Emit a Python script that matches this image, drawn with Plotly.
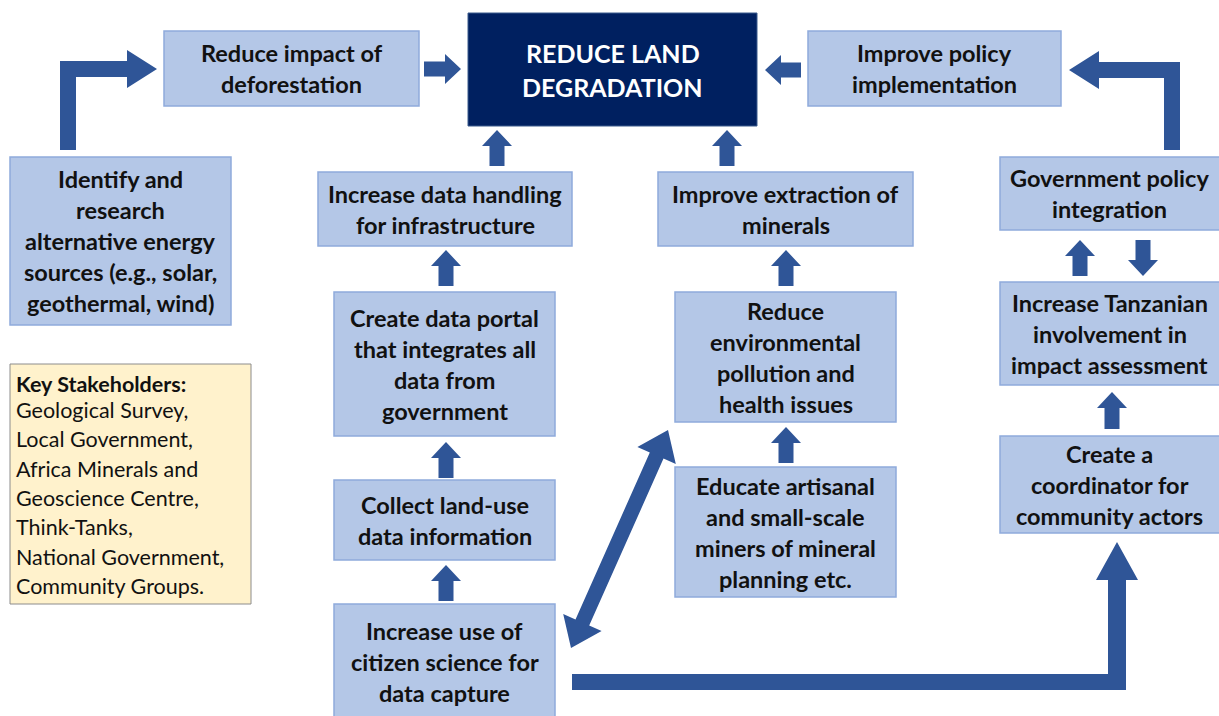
import math
import plotly.graph_objects as go

W, H = 1219, 716

# ---- diagram content ----
box_labels = [
    "Reduce impact of\ndeforestation",
    "Improve policy\nimplementation",
    "Identify and\nresearch\nalternative energy\nsources (e.g., solar,\ngeothermal, wind)",
    "Increase data handling\nfor infrastructure",
    "Create data portal\nthat integrates all\ndata from\ngovernment",
    "Collect land-use\ndata information",
    "Increase use of\ncitizen science for\ndata capture",
    "Improve extraction of\nminerals",
    "Reduce\nenvironmental\npollution and\nhealth issues",
    "Educate artisanal\nand small-scale\nminers of mineral\nplanning etc.",
    "Government policy\nintegration",
    "Increase Tanzanian\ninvolvement in\nimpact assessment",
    "Create a\ncoordinator for\ncommunity actors",
]
box_x0 = [164, 808, 10, 318, 334, 334, 334, 658, 675, 675, 1000, 1000, 1000]
box_x1 = [419, 1061, 231, 572, 555, 555, 555, 913, 896, 896, 1222, 1222, 1222]
box_y0 = [31, 31, 157, 172, 292, 480, 604, 172, 292, 467, 157, 282, 436]
box_y1 = [106, 106, 325, 246, 436, 560, 722, 246, 422, 597, 230, 385, 533]

main_label = ["REDUCE LAND", "DEGRADATION"]
main_box = [468, 13, 757, 126]

stake_title = "Key Stakeholders:"
stake_lines = ["Geological Survey,", "Local Government,", "Africa Minerals and",
               "Geoscience Centre,", "Think-Tanks,", "National Government,",
               "Community Groups."]
stake_box = [10, 364, 251, 604]

# straight arrows: (x_tail, y_tail, x_tip, y_tip)
small_arrows = [
    (497, 166, 497, 130), (727, 166, 727, 130),
    (446, 286, 446, 250), (446, 478, 446, 442), (446, 601, 446, 565),
    (786, 286, 786, 250), (786, 463, 786, 427),
    (1080, 276, 1080, 240), (1143, 240, 1143, 276),
    (1112, 429, 1112, 392),
    (424, 69, 461, 69), (801, 70, 765, 70),
]

ARROW = "#2F5597"
FILL = "#B4C7E7"
EDGE = "#8FAADC"
FONT = "Lato"

shapes = []
annotations = []


def poly(pts):
    return "M " + " L ".join(f"{x:.1f},{y:.1f}" for x, y in pts) + " Z"


def arrow_pts(x0, y0, x1, y1, sw, hw, hl, double=False):
    dx, dy = x1 - x0, y1 - y0
    L = math.hypot(dx, dy)
    ux, uy = dx / L, dy / L
    px, py = -uy, ux

    def pt(bx, by, off):
        return (bx + px * off, by + py * off)
    nx, ny = x1 - ux * hl, y1 - uy * hl
    if not double:
        return [pt(x0, y0, sw / 2), pt(nx, ny, sw / 2), pt(nx, ny, hw / 2), (x1, y1),
                pt(nx, ny, -hw / 2), pt(nx, ny, -sw / 2), pt(x0, y0, -sw / 2)]
    mx, my = x0 + ux * hl, y0 + uy * hl
    return [(x0, y0), pt(mx, my, hw / 2), pt(mx, my, sw / 2), pt(nx, ny, sw / 2),
            pt(nx, ny, hw / 2), (x1, y1), pt(nx, ny, -hw / 2), pt(nx, ny, -sw / 2),
            pt(mx, my, -sw / 2), pt(mx, my, -hw / 2)]


def add_poly(pts):
    shapes.append(dict(type="path", path=poly(pts), fillcolor=ARROW,
                       line=dict(width=0), layer="above"))


def add_rect(x0, y0, x1, y1, fill, edge, lw=1.5):
    shapes.append(dict(type="rect", x0=x0, y0=y0, x1=x1, y1=y1, fillcolor=fill,
                       line=dict(color=edge, width=lw), layer="below"))


# boxes
for lab, a, b, c, d in zip(box_labels, box_x0, box_y0, box_x1, box_y1):
    add_rect(a, b, c, d, FILL, EDGE)
    lines = lab.split("\n")
    cy = (b + d) / 2 if d <= H else 662
    lh = 31
    for i, ln in enumerate(lines):
        y = cy + (i - (len(lines) - 1) / 2) * lh
        annotations.append(dict(x=(a + min(c, W)) / 2, y=y, text=f"<b>{ln}</b>",
                                showarrow=False, xanchor="center", yanchor="middle",
                                font=dict(family=FONT, size=23.5, color="#111111")))

# main box
add_rect(*main_box, "#002060", "#3A5A8C", 1)
for i, ln in enumerate(main_label):
    annotations.append(dict(x=(main_box[0] + main_box[2]) / 2, y=53 + i * 34,
                            text=f"<b>{ln}</b>", showarrow=False,
                            xanchor="center", yanchor="middle",
                            font=dict(family=FONT, size=25, color="white")))

# stakeholders
add_rect(*stake_box, "#FFF2CC", "#8C8C8C", 1)
annotations.append(dict(x=14, y=384, text=f"<b>{stake_title}</b>", showarrow=False,
                        xanchor="left", yanchor="middle",
                        font=dict(family=FONT, size=21.5, color="#111111")))
for i, ln in enumerate(stake_lines):
    annotations.append(dict(x=14, y=410 + i * 29.3, text=ln, showarrow=False,
                            xanchor="left", yanchor="middle",
                            font=dict(family=FONT, size=21.5, color="#111111")))

# small straight arrows
for x0, y0, x1, y1 in small_arrows:
    add_poly(arrow_pts(x0, y0, x1, y1, 15, 30, 16))

# bent arrow left (identify -> deforestation)
add_poly([(60, 61), (76, 61), (76, 150), (60, 150)])
add_poly(arrow_pts(60, 69, 157, 69, 16, 38, 30))
# bent arrow right (government -> policy)
add_poly([(1164, 62), (1180, 62), (1180, 150), (1164, 150)])
add_poly(arrow_pts(1180, 70, 1069, 70, 16, 38, 30))
# double diagonal arrow
add_poly(arrow_pts(571, 648, 668, 430, 15, 42, 28, double=True))
# big L arrow bottom
add_poly([(572, 674), (1126, 674), (1126, 690), (572, 690)])
add_poly(arrow_pts(1117, 690, 1117, 542, 18, 42, 38))

fig = go.Figure()
fig.update_layout(
    width=W, height=H, margin=dict(l=0, r=0, t=0, b=0),
    paper_bgcolor="white", plot_bgcolor="white",
    xaxis=dict(range=[0, W], visible=False, fixedrange=True),
    yaxis=dict(range=[H, 0], visible=False, fixedrange=True),
    shapes=shapes, annotations=annotations, showlegend=False,
)
fig.write_html(
    "out.html",
    config={"displayModeBar": False},
    post_script="document.body.style.margin='0';document.body.style.padding='0';"
                "document.body.style.overflow='hidden';",
)
